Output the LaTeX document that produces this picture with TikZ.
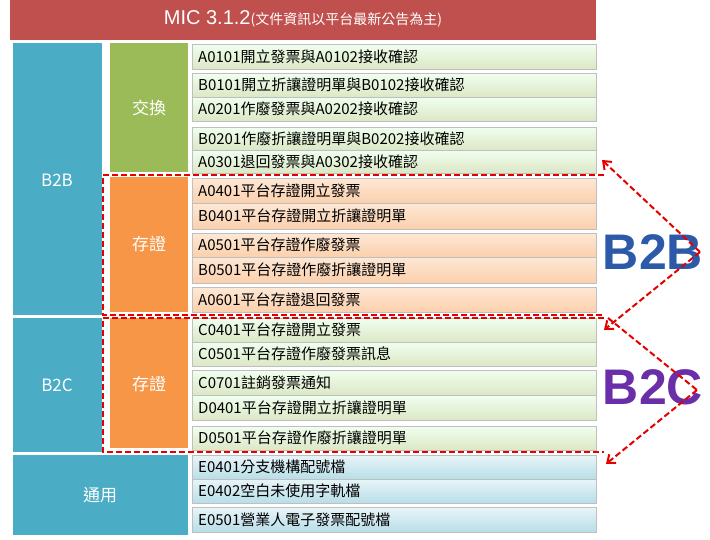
\documentclass[tikz,border=0pt]{standalone}
\usepackage{fontspec}
\setmainfont{Liberation Sans}
\newfontfamily\cjk{Noto Sans CJK TC}
\usetikzlibrary{arrows.meta}
\definecolor{tred}{HTML}{C0504D}
\definecolor{tblue}{HTML}{4BACC6}
\definecolor{tgreen}{HTML}{9BBB59}
\definecolor{torange}{HTML}{F79646}
\definecolor{logoblue}{HTML}{2C5AA8}
\definecolor{logopurple}{HTML}{6A2FA8}
\tikzset{
 gr/.style={top color=green!6!white,bottom color=tgreen!35!white},
 orr/.style={top color=torange!22!white,bottom color=torange!45!white},
 cyr/.style={top color=tblue!12!white,bottom color=tblue!40!white},
 lbl/.style={font=\cjk\fontsize{15}{16}\selectfont,anchor=west,inner sep=0pt},
 big/.style={font=\cjk\fontsize{17}{19}\selectfont,text=white},
 rdash/.style={draw=red!90!black,line width=2.5pt,dash pattern=on 6pt off 3pt},
 rarr/.style={rdash,line width=2pt,-{Straight Barb[length=7pt,width=11pt]}}
}
\newcommand{\row}[4]{% y1 y2 style text
 \path[#3,draw=gray!50] (192,#1) rectangle (596,#2);
 \node[lbl] at (198,{(#1+#2)/2}) {#4};}
\begin{document}
\begin{tikzpicture}[x=1pt,y=-1pt]
\useasboundingbox (0,0) rectangle (710,539);
\fill[tred] (10,0) rectangle (596,40);
\node[text=white,font=\fontsize{20}{22}\selectfont] (title) at (303,19) {MIC 3.1.2{\cjk\fontsize{14}{16}\selectfont(文件資訊以平台最新公告為主)}};
\fill[tblue] (13,43) rectangle (102,315);
\node[big] (b2b) at (57,180) {B2B};
\fill[tblue] (13,318) rectangle (102,452);
\node[big] (b2c) at (57,385) {B2C};
\fill[tblue] (13,455) rectangle (188,535);
\node[big] (ty) at (100,495) {通用};
\fill[tgreen] (110,43) rectangle (188,172);
\node[big] (jh) at (149,108) {交換};
\fill[torange] (110,177) rectangle (188,312);
\node[big] (cz1) at (149,244) {存證};
\fill[torange] (110,318) rectangle (188,448);
\node[big] (cz2) at (149,384) {存證};
\row{44}{69}{gr}{A0101開立發票與A0102接收確認}
\row{73}{97}{gr}{B0101開立折讓證明單與B0102接收確認}
\row{97}{121}{gr}{A0201作廢發票與A0202接收確認}
\row{127}{150}{gr}{B0201作廢折讓證明單與B0202接收確認}
\row{150}{173}{gr}{A0301退回發票與A0302接收確認}
\row{178}{203}{orr}{A0401平台存證開立發票}
\row{203}{229}{orr}{B0401平台存證開立折讓證明單}
\row{233}{257}{orr}{A0501平台存證作廢發票}
\row{257}{283}{orr}{B0501平台存證作廢折讓證明單}
\row{287}{312}{orr}{A0601平台存證退回發票}
\row{318}{342}{gr}{C0401平台存證開立發票}
\row{342}{366}{gr}{C0501平台存證作廢發票訊息}
\row{370}{395}{gr}{C0701註銷發票通知}
\row{395}{420}{gr}{D0401平台存證開立折讓證明單}
\row{426}{450}{gr}{D0501平台存證作廢折讓證明單}
\row{455}{479}{cyr}{E0401分支機構配號檔}
\row{479}{503}{cyr}{E0402空白未使用字軌檔}
\row{507}{532}{cyr}{E0501營業人電子發票配號檔}
\draw[rdash] (604,175) -- (103,175) -- (103,315) -- (604,315);
\draw[rdash] (604,318) -- (103,318) -- (103,452) -- (604,452);
\coordinate (p1) at (602,160);
\coordinate (p2) at (700,252);
\coordinate (p3) at (604,330);
\coordinate (q1) at (608,318);
\coordinate (q2) at (697,390);
\coordinate (q3) at (606,464);
\node[font=\fontsize{50}{54}\bfseries,text=logoblue,inner sep=0pt] (lb2b) at (653,252) {B2B};
\node[font=\fontsize{50}{54}\bfseries,text=logopurple,inner sep=0pt] (lb2c) at (653,387) {B2C};
\draw[rarr] (p2) -- (p1);
\draw[rarr] (p2) -- (p3);
\draw[rdash,line width=2pt] (q1) -- (q2);
\draw[rarr] (q2) -- (q3);
\end{tikzpicture}
\end{document}
